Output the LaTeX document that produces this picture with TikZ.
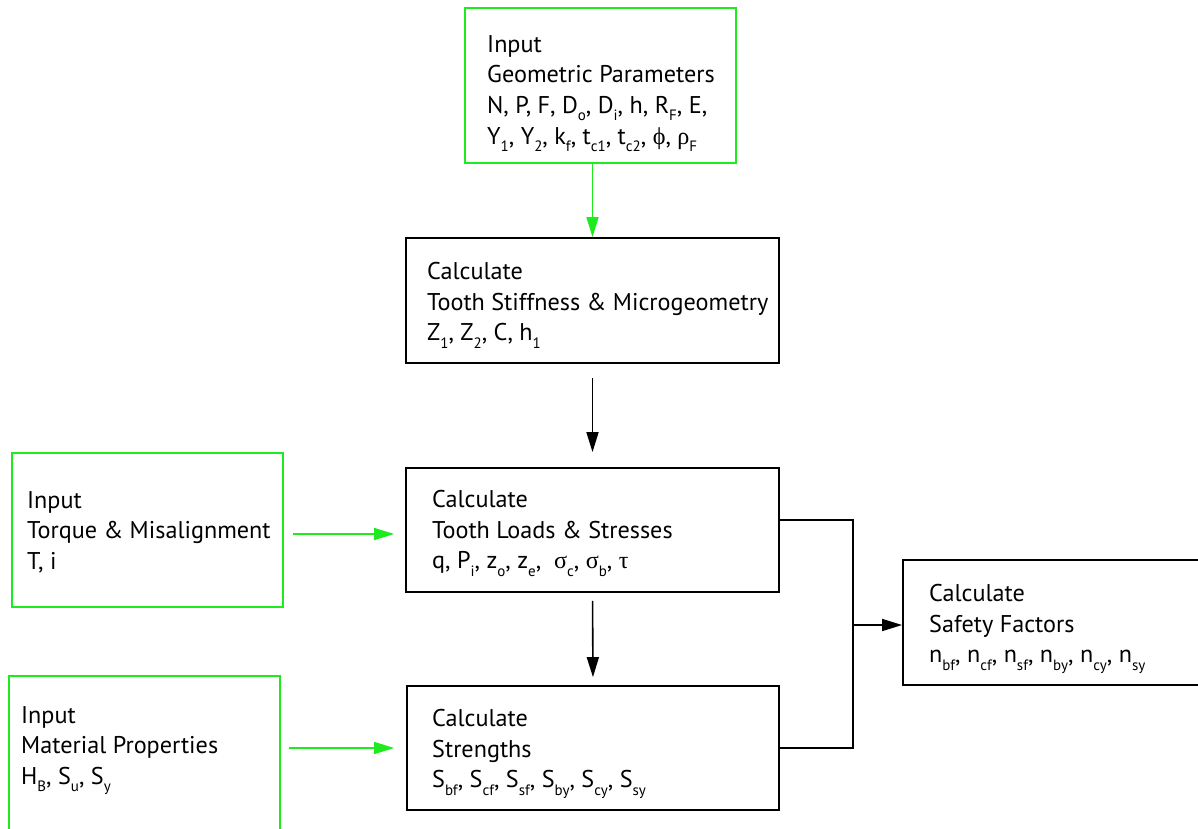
\documentclass[tikz,border=0pt]{standalone}
\usepackage{fontspec}
\setmainfont{PT Sans}
\newfontfamily\grk{Liberation Serif}
\usetikzlibrary{arrows.meta}
\definecolor{ingreen}{RGB}{30,235,30}
\newcommand\sbs[1]{\raisebox{-0.3em}{\fontsize{15}{15}\selectfont #1}}
\newcommand\gk[1]{{\grk #1}}
\begin{document}
\begin{tikzpicture}[x=1pt,y=-1pt,
  txt/.style={font=\fontsize{24.2}{30.7}\selectfont, align=left, anchor=north west, inner sep=0pt},
  calcbox/.style={draw=black, line width=1.8pt, rectangle, anchor=center, inner sep=0pt},
  inbox/.style={draw=ingreen, line width=1.8pt, rectangle, anchor=center, inner sep=0pt},
  blk/.style={draw=black, line width=1.6pt, -{Triangle[length=20pt,width=12pt]}},
  grn/.style={draw=ingreen, line width=1.6pt, -{Triangle[length=20pt,width=12pt]}},
  wire/.style={draw=black, line width=1.6pt}]
\clip (0,0) rectangle (1198,828);
\useasboundingbox (0,0) rectangle (1198,828);

% boxes
\node[inbox, minimum width=271pt, minimum height=155pt] (geo) at (600.5,85.5) {};
\node[calcbox, minimum width=373pt, minimum height=125pt] (stiff) at (592.5,300.5) {};
\node[calcbox, minimum width=373pt, minimum height=124pt] (loads) at (592.5,530) {};
\node[calcbox, minimum width=372pt, minimum height=124pt] (str) at (593,748) {};
\node[calcbox, minimum width=300pt, minimum height=125pt] (safe) at (1053,622.5) {};
\node[inbox, minimum width=271pt, minimum height=154pt] (torque) at (147.5,530) {};
\node[inbox, minimum width=271pt, minimum height=155pt] (mat) at (144.5,753.5) {};

% texts
\node[txt] (geotxt) at (487,35)
 {Input\\Geometric Parameters\\N, P, F, D\sbs{o}, D\sbs{i}, h, R\sbs{F}, E,\\Y\sbs{1}, Y\sbs{2}, k\sbs{f}, t\sbs{c1}, t\sbs{c2}, \gk{ϕ}, \gk{ρ}\sbs{F}};
\node[txt] (stifftxt) at (427,262)
 {Calculate\\Tooth Stiffness \& Microgeometry\\Z\sbs{1}, Z\sbs{2}, C, h\sbs{1}};
\node[txt] (loadstxt) at (432,490)
 {Calculate\\Tooth Loads \& Stresses\\q, P\sbs{i}, z\sbs{o}, z\sbs{e}, \ \gk{σ}\sbs{c}, \gk{σ}\sbs{b}, \gk{τ}};
\node[txt] (strtxt) at (432,709)
 {Calculate\\Strengths\\S\sbs{bf}, S\sbs{cf}, S\sbs{sf}, S\sbs{by}, S\sbs{cy}, S\sbs{sy}};
\node[txt] (safetxt) at (929,584)
 {Calculate\\Safety Factors\\n\sbs{bf}, n\sbs{cf}, n\sbs{sf}, n\sbs{by}, n\sbs{cy}, n\sbs{sy}};
\node[txt] (torquetxt) at (27,491)
 {Input\\Torque \& Misalignment\\T, i};
\node[txt] (mattxt) at (21,706)
 {Input\\Material Properties\\H\sbs{B}, S\sbs{u}, S\sbs{y}};

\coordinate (jn) at (853,625);

\draw[grn] (stiff.north |- geo.south) -- (stiff.north);
\draw[blk, shorten <=14pt, shorten >=15pt] (stiff.south) -- (loads.north);
\draw[blk, shorten <=8pt, shorten >=8pt] (loads.south) -- (str.north);
\draw[grn, shorten <=9pt, shorten >=11pt] ([yshift=-4pt]torque.east) -- ([yshift=-4pt]loads.west);
\draw[grn, shorten <=8pt, shorten >=12pt] (str.west -| mat.east) -- (str.west);
\draw[wire] ([yshift=10pt]loads.east) -| (jn) |- (str.east);
\draw[blk] (jn) -- (safe.west |- jn);
\end{tikzpicture}
\end{document}
